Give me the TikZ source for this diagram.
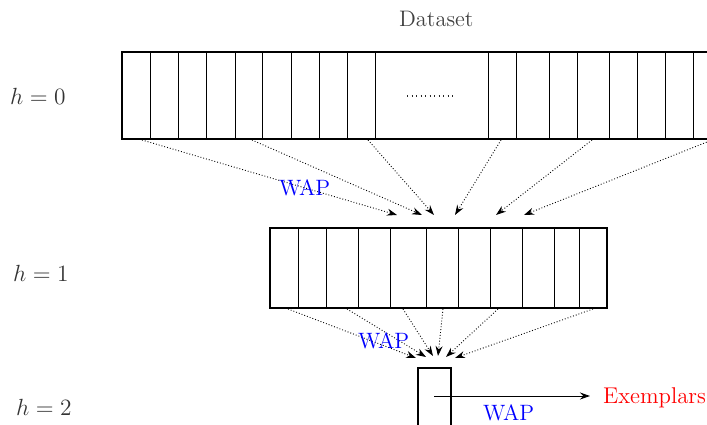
\documentclass[tikz,border=0pt]{standalone}
\usepackage{graphicx}
\usetikzlibrary{arrows.meta}
\newcommand{\bigtxt}[2]{\scalebox{#1}{\fontsize{12}{14}\selectfont #2}}
\begin{document}
\begin{tikzpicture}[x=1pt,y=-1pt,
  lvl/.style={inner sep=0pt,anchor=base west,text=black!80},
  wap/.style={inner sep=0pt,anchor=base west,text=blue},
  outbox/.style={draw,line width=2pt,inner sep=0pt,outer sep=0pt},
  divider/.style={line width=0.9pt},
  dotarrow/.style={dotted,line width=0.9pt,-{Stealth[length=10pt,width=7pt]}},
  solidarrow/.style={line width=1pt,-{Stealth[length=10pt,width=7pt]}}]
\clip (0,0) rectangle (707,425);
\path[use as bounding box] (0,0) rectangle (707,425);

% labels
\node[lvl,text=black!75] (ds) at (399,26.7) {\bigtxt{1.87}{Dataset}};
\node[lvl] (h0) at (10,105) {\bigtxt{1.95}{$h=0$}};
\node[lvl] (h1) at (13,281.7) {\bigtxt{1.95}{$h=1$}};
\node[lvl] (h2) at (16,415) {\bigtxt{1.95}{$h=2$}};

% top box
\node[outbox,anchor=north west,minimum width=600pt,minimum height=87pt] (b0) at (122,52) {};
\foreach \x in {150,178.6,206.6,235,262.6,291,319.5,347.5,375.5,488.3,516.3,549,577,609,637.4,665.4,693.8}
  \draw[divider] (\x,53) -- (\x,138);
\coordinate (dl) at (407,96);
\coordinate (dr) at (454,96);
\draw[line width=1.3pt,dash pattern=on 1.3pt off 3.2pt,black!85] (dl) -- (dr);

% middle box
\node[outbox,anchor=north west,minimum width=337pt,minimum height=80pt] (b1) at (270,228) {};
\foreach \x in {298.7,326.7,358.3,390.7,426.3,458.7,490.3,522.7,554.3,579}
  \draw[divider] (\x,229) -- (\x,307);

% bottom box
\node[outbox,anchor=north west,minimum width=33pt,minimum height=80pt] (b2) at (418,368) {};

% arrows level 0 -> 1
\foreach \s/\e in {142/397, 252/422, 368/434, 501/455, 592/496, 712/524}{
  \coordinate (s) at (\s,140);
  \coordinate (e) at (\e,215);
  \draw[dotarrow] (s) -- (e);
}
\node[wap] (w1) at (279,196) {\bigtxt{1.85}{WAP}};

% arrows level 1 -> 2
\foreach \s/\e/\ey in {288/416/358, 347/426/357, 403/433/356, 443/438/356, 498/446/357, 593/455/358}{
  \coordinate (s) at (\s,309);
  \coordinate (e) at (\e,\ey);
  \draw[dotarrow] (s) -- (e);
}
\node[wap] (w2) at (358,348.3) {\bigtxt{1.85}{WAP}};

% exemplars
\coordinate (xs) at (434,396);
\node[inner sep=0pt,anchor=base west,text=red] (ex) at (603,403.8) {\bigtxt{1.9}{Exemplars}};
\coordinate (xe) at (590,396);
\draw[solidarrow] (xs) -- (xe);
\node[wap] (w3) at (483,420) {\bigtxt{1.85}{WAP}};
\end{tikzpicture}
\end{document}
